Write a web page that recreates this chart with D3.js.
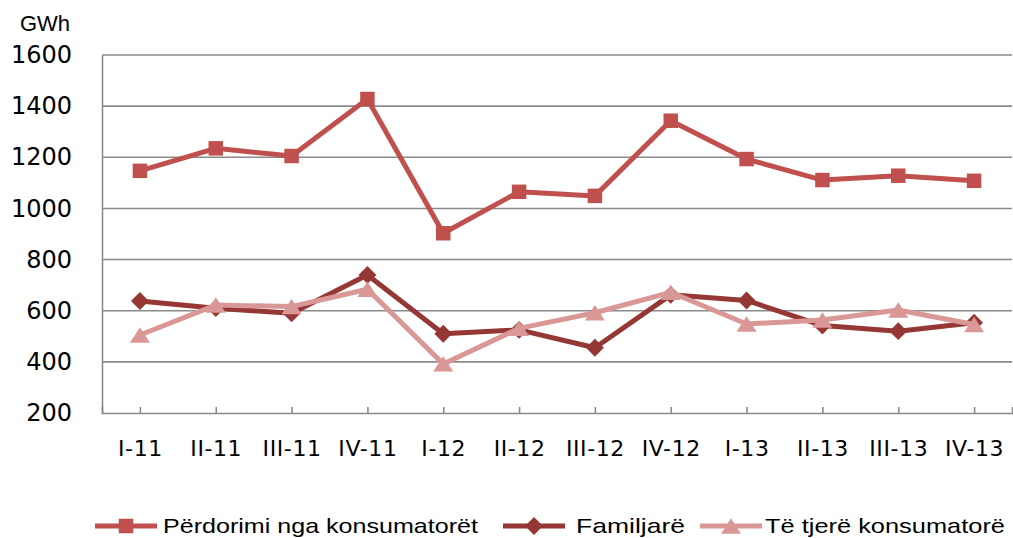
<!DOCTYPE html>
<html>
<head>
<meta charset="utf-8">
<script src="https://cdn.jsdelivr.net/npm/d3@7"></script>
<style>
  body { margin: 0; background: #fff; }
  svg text { fill: #000; }
</style>
</head>
<body>
<div id="container"></div>
<script>
const quarters = ["I-11", "II-11", "III-11", "IV-11", "I-12", "II-12", "III-12", "IV-12", "I-13", "II-13", "III-13", "IV-13"];
const perdorimi = [1147, 1235, 1205, 1428, 903, 1065, 1049, 1343, 1193, 1111, 1128, 1108];
const familjare = [638, 610, 590, 740, 510, 525, 455, 662, 640, 542, 520, 553];
const teTjere = [505, 622, 616, 684, 392, 531, 592, 672, 548, 564, 603, 546];
const yTicks = [200, 400, 600, 800, 1000, 1200, 1400, 1600];
const seriesNames = ["Përdorimi nga konsumatorët", "Familjarë", "Të tjerë konsumatorë"];

const w = 1013, h = 538;
const margin = {top: 55, left: 102, bottom: 125, right: 1};
const graphWidth = w - margin.left - margin.right;
const graphHeight = h - margin.top - margin.bottom;

const svg = d3.select("#container").append("svg").attr("width", w).attr("height", h);
const graph = svg.append("g").attr("transform", `translate(${margin.left}, ${margin.top})`);

const xScale = d3.scalePoint().domain(quarters).range([0, graphWidth]).padding(0.5);
const yScale = d3.scaleLinear().domain([200, 1600]).range([graphHeight, 0]);

// gridlines
graph.append("g")
  .selectAll("line")
  .data(yTicks.slice(1))
  .enter().append("line")
    .attr("x1", 0).attr("x2", graphWidth)
    .attr("y1", d => yScale(d)).attr("y2", d => yScale(d))
    .attr("stroke", "#8a8a8a").attr("stroke-width", 1.6);

// y axis
const yAxis = d3.axisLeft(yScale).tickValues(yTicks).tickFormat(d3.format("d")).tickSize(0).tickPadding(30);
const yAxisGroup = graph.append("g").call(yAxis);
yAxisGroup.select(".domain").attr("stroke", "#8a8a8a").attr("stroke-width", 1.6);
yAxisGroup.selectAll("text").attr("font-family", "DejaVu Sans").attr("font-size", 24);

// x axis, ticks point inward
const xAxis = d3.axisBottom(xScale).tickSizeInner(-6).tickSizeOuter(-6).tickPadding(27);
const xAxisGroup = graph.append("g").attr("transform", `translate(0, ${graphHeight})`).call(xAxis);
xAxisGroup.select(".domain").attr("stroke", "#8a8a8a").attr("stroke-width", 1.6);
xAxisGroup.selectAll(".tick line").attr("stroke", "#8a8a8a").attr("stroke-width", 1.6);
xAxisGroup.selectAll("text").attr("font-family", "DejaVu Sans").attr("font-size", 22).attr("letter-spacing", 0.6);

svg.append("text")
  .attr("x", 70).attr("y", 31)
  .attr("text-anchor", "end")
  .attr("font-family", "Liberation Sans").attr("font-size", 22)
  .text("GWh");

// marker shapes like the spreadsheet ones
const diamondType = {draw(ctx, size) {
  const r = Math.sqrt(size) / 2;
  ctx.moveTo(0, -r); ctx.lineTo(r, 0); ctx.lineTo(0, r); ctx.lineTo(-r, 0); ctx.closePath();
}};
const triangleType = {draw(ctx, size) {
  const r = Math.sqrt(size) / 2;
  ctx.moveTo(0, -r * 0.85); ctx.lineTo(r * 1.1, r * 0.85); ctx.lineTo(-r * 1.1, r * 0.85); ctx.closePath();
}};
const symSquare = d3.symbol().type(d3.symbolSquare).size(210);
const symDiamond = d3.symbol().type(diamondType).size(320);
const symTriangle = d3.symbol().type(triangleType).size(330);

const series = [
  {name: seriesNames[0], values: perdorimi, color: "#c0504d", sym: symSquare},
  {name: seriesNames[1], values: familjare, color: "#953735", sym: symDiamond},
  {name: seriesNames[2], values: teTjere, color: "#d99795", sym: symTriangle}
];

const line = d3.line().x((d, i) => xScale(quarters[i])).y(d => yScale(d));

series.forEach(s => {
  graph.append("path")
    .datum(s.values)
    .attr("fill", "none")
    .attr("stroke", s.color)
    .attr("stroke-width", 5)
    .attr("stroke-linejoin", "round")
    .attr("d", line);
  graph.selectAll(null)
    .data(s.values)
    .enter().append("path")
      .attr("d", s.sym)
      .attr("fill", s.color)
      .attr("transform", (d, i) => `translate(${xScale(quarters[i])}, ${yScale(d)})`);
});

// legend
const legendItems = [
  {x: 95, textX: 163, textW: 315},
  {x: 503, textX: 576, textW: 109},
  {x: 700, textX: 765, textW: 240}
];
const legendY = 526;
const legend = svg.append("g");
series.forEach((s, i) => {
  const li = legendItems[i];
  const g = legend.append("g");
  g.append("line")
    .attr("x1", li.x).attr("x2", li.x + 62)
    .attr("y1", legendY).attr("y2", legendY)
    .attr("stroke", s.color).attr("stroke-width", 5);
  g.append("path")
    .attr("d", s.sym)
    .attr("fill", s.color)
    .attr("transform", `translate(${li.x + 31}, ${legendY})`);
  g.append("text")
    .attr("x", li.textX).attr("y", legendY + 7)
    .attr("font-family", "Liberation Sans").attr("font-size", 21)
    .attr("textLength", li.textW).attr("lengthAdjust", "spacingAndGlyphs")
    .text(s.name);
});
</script>
</body>
</html>
